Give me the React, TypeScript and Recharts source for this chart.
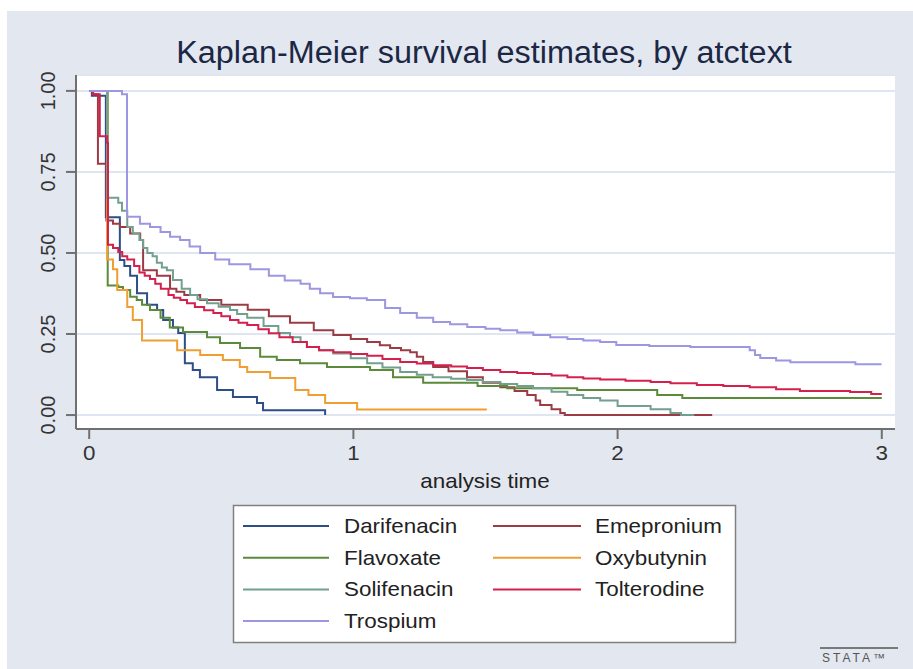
import React from 'react';
import { LineChart, Line, XAxis, YAxis, CartesianGrid } from 'recharts';

type Pt = [number, number];

const seriesNames = ['Darifenacin', 'Emepronium', 'Flavoxate', 'Oxybutynin', 'Solifenacin', 'Tolterodine', 'Trospium'];
const seriesColors = ['#2d4e86', '#9b3c44', '#5b8a3a', '#f09e32', '#73a08e', '#d4204c', '#9d96e0'];

const darifenacin: Pt[] = [[0, 1], [0.01, 0.985], [0.063, 0.61], [0.116, 0.478], [0.133, 0.46], [0.155, 0.43], [0.181, 0.376], [0.219, 0.34], [0.257, 0.324], [0.28, 0.293], [0.317, 0.27], [0.337, 0.253], [0.362, 0.16], [0.392, 0.139], [0.419, 0.117], [0.484, 0.077], [0.544, 0.056], [0.635, 0.037], [0.658, 0.015], [0.893, 0]];
const emepronium: Pt[] = [[0, 1], [0.012, 0.99], [0.033, 0.775], [0.065, 0.6], [0.09, 0.59], [0.116, 0.58], [0.155, 0.56], [0.193, 0.54], [0.204, 0.447], [0.256, 0.43], [0.306, 0.39], [0.33, 0.38], [0.36, 0.37], [0.42, 0.355], [0.5, 0.34], [0.6, 0.325], [0.68, 0.305], [0.76, 0.285], [0.85, 0.262], [0.924, 0.247], [0.99, 0.235], [1.052, 0.225], [1.1, 0.215], [1.139, 0.207], [1.18, 0.2], [1.215, 0.194], [1.24, 0.18], [1.264, 0.164], [1.302, 0.148], [1.36, 0.135], [1.43, 0.117], [1.49, 0.1], [1.556, 0.086], [1.61, 0.074], [1.658, 0.062], [1.69, 0.045], [1.707, 0.031], [1.75, 0.018], [1.783, 0.006], [1.8, 0], [2.358, 0]];
const flavoxate: Pt[] = [[0, 1], [0.07, 0.4], [0.11, 0.395], [0.128, 0.386], [0.155, 0.365], [0.18, 0.355], [0.2, 0.34], [0.23, 0.324], [0.27, 0.3], [0.305, 0.27], [0.355, 0.256], [0.446, 0.24], [0.495, 0.222], [0.571, 0.207], [0.647, 0.18], [0.71, 0.17], [0.798, 0.16], [0.9, 0.148], [1.063, 0.139], [1.15, 0.117], [1.264, 0.1], [1.47, 0.09], [1.582, 0.083], [1.847, 0.077], [2.15, 0.062], [2.245, 0.053], [3.0, 0.053]];
const oxybutynin: Pt[] = [[0, 1], [0.068, 0.48], [0.09, 0.45], [0.106, 0.386], [0.144, 0.333], [0.165, 0.293], [0.2, 0.23], [0.333, 0.2], [0.42, 0.185], [0.506, 0.17], [0.57, 0.148], [0.598, 0.133], [0.685, 0.114], [0.78, 0.077], [0.83, 0.062], [0.893, 0.037], [1.014, 0.017], [1.505, 0.017]];
const solifenacin: Pt[] = [[0, 1], [0.068, 0.67], [0.11, 0.655], [0.124, 0.63], [0.144, 0.58], [0.165, 0.56], [0.19, 0.54], [0.204, 0.515], [0.22, 0.5], [0.24, 0.49], [0.256, 0.47], [0.275, 0.455], [0.294, 0.447], [0.317, 0.417], [0.35, 0.39], [0.382, 0.37], [0.41, 0.357], [0.446, 0.345], [0.49, 0.334], [0.533, 0.324], [0.56, 0.312], [0.598, 0.3], [0.66, 0.275], [0.716, 0.253], [0.76, 0.24], [0.8, 0.225], [0.824, 0.21], [0.87, 0.2], [0.924, 0.19], [0.99, 0.175], [1.052, 0.16], [1.11, 0.147], [1.177, 0.133], [1.24, 0.124], [1.3, 0.117], [1.37, 0.112], [1.43, 0.108], [1.49, 0.102], [1.556, 0.096], [1.62, 0.09], [1.68, 0.083], [1.75, 0.072], [1.81, 0.062], [1.87, 0.053], [1.934, 0.045], [2.0, 0.028], [2.125, 0.018], [2.2, 0.006], [2.24, 0], [2.29, 0]];
const tolterodine: Pt[] = [[0, 1], [0.015, 0.99], [0.04, 0.86], [0.068, 0.84], [0.071, 0.525], [0.09, 0.515], [0.11, 0.503], [0.125, 0.49], [0.144, 0.48], [0.17, 0.46], [0.19, 0.44], [0.21, 0.43], [0.23, 0.42], [0.25, 0.405], [0.271, 0.39], [0.3, 0.37], [0.32, 0.362], [0.345, 0.355], [0.37, 0.345], [0.4, 0.333], [0.435, 0.323], [0.47, 0.315], [0.5, 0.305], [0.533, 0.293], [0.565, 0.285], [0.598, 0.278], [0.64, 0.265], [0.68, 0.252], [0.72, 0.24], [0.77, 0.225], [0.824, 0.21], [0.87, 0.2], [0.924, 0.194], [0.99, 0.188], [1.052, 0.183], [1.11, 0.173], [1.177, 0.164], [1.24, 0.159], [1.302, 0.154], [1.37, 0.15], [1.43, 0.145], [1.49, 0.139], [1.556, 0.133], [1.62, 0.13], [1.68, 0.127], [1.75, 0.122], [1.81, 0.117], [1.87, 0.113], [1.934, 0.11], [2.03, 0.106], [2.125, 0.102], [2.2, 0.098], [2.3, 0.093], [2.4, 0.09], [2.5, 0.086], [2.6, 0.08], [2.69, 0.074], [2.88, 0.071], [2.96, 0.065], [3.0, 0.065]];
const trospium: Pt[] = [[0, 1], [0.124, 0.99], [0.143, 0.612], [0.192, 0.59], [0.23, 0.58], [0.27, 0.565], [0.306, 0.55], [0.344, 0.54], [0.38, 0.52], [0.42, 0.5], [0.477, 0.48], [0.53, 0.465], [0.61, 0.45], [0.68, 0.43], [0.74, 0.415], [0.8, 0.405], [0.835, 0.39], [0.874, 0.376], [0.923, 0.364], [0.987, 0.36], [1.051, 0.355], [1.12, 0.33], [1.177, 0.315], [1.24, 0.3], [1.302, 0.287], [1.366, 0.28], [1.431, 0.272], [1.5, 0.266], [1.556, 0.262], [1.62, 0.255], [1.681, 0.247], [1.745, 0.24], [1.81, 0.235], [1.87, 0.23], [1.934, 0.225], [1.995, 0.216], [2.12, 0.213], [2.275, 0.21], [2.5, 0.2], [2.52, 0.185], [2.54, 0.176], [2.6, 0.168], [2.654, 0.163], [2.9, 0.157], [2.999, 0.157]];

const seriesData: Pt[][] = [darifenacin, emepronium, flavoxate, oxybutynin, solifenacin, tolterodine, trospium];

const xTicks = [0, 1, 2, 3];
const yTicks = [0, 0.25, 0.5, 0.75, 1];

const titleText = 'Kaplan-Meier survival estimates, by atctext';
const xLabel = 'analysis time';

const FONT = '"Liberation Sans", Arial, Helvetica, sans-serif';

const YTick = (props: any) => {
  const { y, payload } = props;
  return (
    <text transform={`translate(55,${y}) rotate(-90)`} textAnchor="middle" fontSize={20} fill="#333" fontFamily={FONT}>
      {Number(payload.value).toFixed(2)}
    </text>
  );
};

const XTick = (props: any) => {
  const { x, payload } = props;
  return (
    <text transform={`translate(${x},460) scale(1.12,1)`} textAnchor="middle" fontSize={20} fill="#333" fontFamily={FONT}>
      {payload.value}
    </text>
  );
};

const legendOrder = [0, 1, 2, 3, 4, 5, 6];

export default function App() {
  const lines = seriesData.map((arr, i) => ({
    name: seriesNames[i],
    color: seriesColors[i],
    data: arr.map(([t, s]) => ({ t, s })),
  }));

  return (
    <div style={{ position: 'absolute', left: 0, top: 0, width: 913, height: 669, background: '#ffffff', overflow: 'hidden' }}>
      <div style={{ position: 'absolute', left: 7, top: 11, width: 906, height: 658, background: '#e3e7f0' }} />
      <div style={{ position: 'absolute', left: 0, top: 0 }}>
        <LineChart width={913} height={669} margin={{ top: 75, right: 18, bottom: 190, left: 6 }}>
          <CartesianGrid vertical={false} stroke="#dfe5f1" strokeWidth={2} fill="#ffffff" />
          <XAxis
            type="number"
            dataKey="t"
            domain={[-0.05, 3.05]}
            ticks={xTicks}
            allowDataOverflow
            height={50}
            tick={<XTick />}
            tickSize={10}
            axisLine={{ stroke: '#707070', strokeWidth: 2 }}
            tickLine={{ stroke: '#707070', strokeWidth: 2 }}
          />
          <YAxis
            type="number"
            dataKey="s"
            domain={[-0.043, 1.049]}
            ticks={yTicks}
            allowDataOverflow
            width={70}
            tick={<YTick />}
            tickSize={10}
            axisLine={{ stroke: '#707070', strokeWidth: 2 }}
            tickLine={{ stroke: '#707070', strokeWidth: 2 }}
          />
          {lines.map((l) => (
            <Line
              key={l.name}
              data={l.data}
              dataKey="s"
              name={l.name}
              type="stepAfter"
              stroke={l.color}
              strokeWidth={2}
              dot={false}
              activeDot={false}
              isAnimationActive={false}
            />
          ))}
        </LineChart>
      </div>
      <svg width={913} height={669} style={{ position: 'absolute', left: 0, top: 0, pointerEvents: 'none' }}>
        <text transform="translate(484,63) scale(1.08,1.04)" textAnchor="middle" fontSize={30} fill="#1c2745" fontFamily={FONT}>
          {titleText}
        </text>
        <text transform="translate(485,488) scale(1.12,1)" textAnchor="middle" fontSize={20} fill="#222" fontFamily={FONT}>
          {xLabel}
        </text>
        <rect x={233.5} y={505.5} width={502} height={137} fill="#ffffff" stroke="#808080" strokeWidth={1.5} />
        {legendOrder.map((i, k) => {
          const col = k % 2;
          const row = Math.floor(k / 2);
          const cy = 526 + row * 31.7;
          const lx1 = col === 0 ? 243 : 493;
          const lx2 = col === 0 ? 329 : 581;
          const tx = col === 0 ? 344 : 595;
          return (
            <g key={seriesNames[i]}>
              <line x1={lx1} x2={lx2} y1={cy} y2={cy} stroke={seriesColors[i]} strokeWidth={2} />
              <text transform={`translate(${tx},${cy + 7}) scale(1.12,1)`} fontSize={20} fill="#222" fontFamily={FONT}>
                {seriesNames[i]}
              </text>
            </g>
          );
        })}
        <line x1={820} x2={898} y1={648} y2={648} stroke="#555" strokeWidth={1.5} />
        <text x={822} y={662} fontSize={12} fill="#555" fontFamily={FONT} letterSpacing={3}>
          STATA™
        </text>
      </svg>
    </div>
  );
}
